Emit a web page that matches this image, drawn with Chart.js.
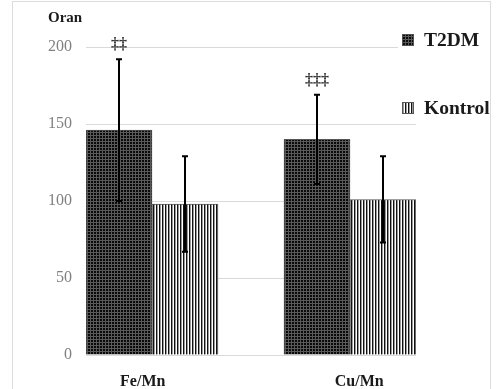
<!DOCTYPE html>
<html>
<head>
<meta charset="utf-8">
<script src="https://cdn.jsdelivr.net/npm/chart.js@4"></script>
<style>
  html, body { margin: 0; padding: 0; background: #fff; overflow: hidden; }
  #wrap { position: relative; width: 496px; height: 389px; }
  #frame { position: absolute; left: 12px; top: 1px; width: 479px; height: 420px; border: 1px solid #dcdcdc; box-sizing: border-box; }
  #chart { position: absolute; left: 0; top: 0; }
</style>
</head>
<body>
<div id="wrap">
  <div id="frame"></div>
  <canvas id="chart" width="496" height="389"></canvas>
</div>
<script>
const categories = ['Fe/Mn', 'Cu/Mn'];
const t2dmValues = [146, 140];
const t2dmSd = [46, 29];
const kontrolValues = [98, 101];
const kontrolSd = [31, 28];
const t2dmMarks = ['‡‡', '‡‡‡'];
const seriesNames = ['T2DM', 'Kontrol'];

// layout on the x axis (linear units, bar = 1 unit)
const groupPos = [1, 4];
const labelPos = [0.86, 4.14];

const serif = "'Liberation Serif', 'Times New Roman', serif";

const canvas = document.getElementById('chart');
const mainCtx = canvas.getContext('2d');

function makePattern(w, h, draw) {
  const c = document.createElement('canvas');
  c.width = w;
  c.height = h;
  const g = c.getContext('2d');
  draw(g);
  return mainCtx.createPattern(c, 'repeat');
}

// dark dotted fill
const dotFill = makePattern(3, 3, g => {
  g.fillStyle = '#5a5a5a';
  g.fillRect(0, 0, 3, 3);
  g.fillStyle = '#0a0a0a';
  g.fillRect(1, 1, 2, 2);
});

// vertical stripes
const stripeFill = makePattern(3, 3, g => {
  g.fillStyle = '#ffffff';
  g.fillRect(0, 0, 3, 3);
  g.fillStyle = '#111111';
  g.fillRect(0, 0, 1, 3);
  g.fillStyle = '#9a9a9a';
  g.fillRect(1, 0, 1, 3);
});

const errorBars = {
  id: 'errorBars',
  afterDatasetsDraw(chart) {
    const { ctx } = chart;
    const y = chart.scales.y;
    const sds = [t2dmSd, kontrolSd];
    ctx.save();
    ctx.strokeStyle = '#000';
    ctx.lineWidth = 2;
    chart.data.datasets.forEach((ds, i) => {
      chart.getDatasetMeta(i).data.forEach((bar, j) => {
        const v = ds.data[j].y;
        const top = y.getPixelForValue(v + sds[i][j]);
        const bot = y.getPixelForValue(v - sds[i][j]);
        ctx.beginPath();
        ctx.moveTo(bar.x, top);
        ctx.lineTo(bar.x, bot);
        ctx.moveTo(bar.x - 3, top);
        ctx.lineTo(bar.x + 3, top);
        ctx.moveTo(bar.x - 3, bot);
        ctx.lineTo(bar.x + 3, bot);
        ctx.stroke();
        if (i === 0) {
          ctx.fillStyle = '#333';
          ctx.font = 'bold 16px ' + serif;
          ctx.textAlign = 'center';
          ctx.textBaseline = 'middle';
          ctx.fillText(t2dmMarks[j], bar.x, top - 14);
        }
      });
    });
    ctx.restore();
  }
};

const sideTexts = {
  id: 'sideTexts',
  afterDraw(chart) {
    const { ctx } = chart;
    ctx.save();
    // legend box covers the grid like in the original
    ctx.fillStyle = '#fff';
    ctx.fillRect(398, 28, 92, 92);
    const rows = [40, 108];
    chart.data.datasets.forEach((ds, i) => {
      ctx.fillStyle = ds.backgroundColor;
      ctx.fillRect(402, rows[i] - 6, 12, 12);
      ctx.strokeStyle = '#555';
      ctx.lineWidth = 1;
      ctx.strokeRect(402.5, rows[i] - 5.5, 11, 11);
      ctx.fillStyle = '#1a1a1a';
      ctx.font = 'bold 19.5px ' + serif;
      ctx.textAlign = 'left';
      ctx.textBaseline = 'middle';
      ctx.fillText(ds.label, 424, rows[i] + 1);
    });
    ctx.fillStyle = '#1a1a1a';
    ctx.font = 'bold 15px ' + serif;
    ctx.fillText('Oran', 48, 18);
    ctx.restore();
  }
};

new Chart(canvas, {
  type: 'bar',
  data: {
    datasets: [
      {
        label: seriesNames[0],
        data: t2dmValues.map((v, i) => ({ x: groupPos[i], y: v })),
        backgroundColor: dotFill,
        borderColor: '#555',
        borderWidth: 1,
        barThickness: 66
      },
      {
        label: seriesNames[1],
        data: kontrolValues.map((v, i) => ({ x: groupPos[i], y: v })),
        backgroundColor: stripeFill,
        borderColor: '#555',
        borderWidth: 1,
        barThickness: 66
      }
    ]
  },
  options: {
    responsive: false,
    animation: false,
    layout: { padding: { top: 47, right: 80, bottom: 0, left: 0 } },
    scales: {
      x: {
        type: 'linear',
        min: 0,
        max: 5,
        offset: false,
        grid: { display: false },
        border: { display: false },
        afterBuildTicks: axis => { axis.ticks = labelPos.map(v => ({ value: v })); },
        afterFit: axis => { axis.height = 34; },
        ticks: {
          autoSkip: false,
          maxRotation: 0,
          padding: 9,
          color: '#1a1a1a',
          font: { family: serif, size: 16, weight: 'bold' },
          callback: (v, i) => categories[i]
        }
      },
      y: {
        min: 0,
        max: 200,
        grid: { color: '#d9d9d9', drawTicks: false },
        border: { display: false },
        afterFit: axis => { axis.width = 86; },
        ticks: {
          stepSize: 50,
          padding: 14,
          color: '#808080',
          font: { family: serif, size: 16 }
        }
      }
    },
    plugins: {
      legend: { display: false },
      tooltip: { enabled: false }
    }
  },
  plugins: [errorBars, sideTexts]
});
</script>
</body>
</html>
